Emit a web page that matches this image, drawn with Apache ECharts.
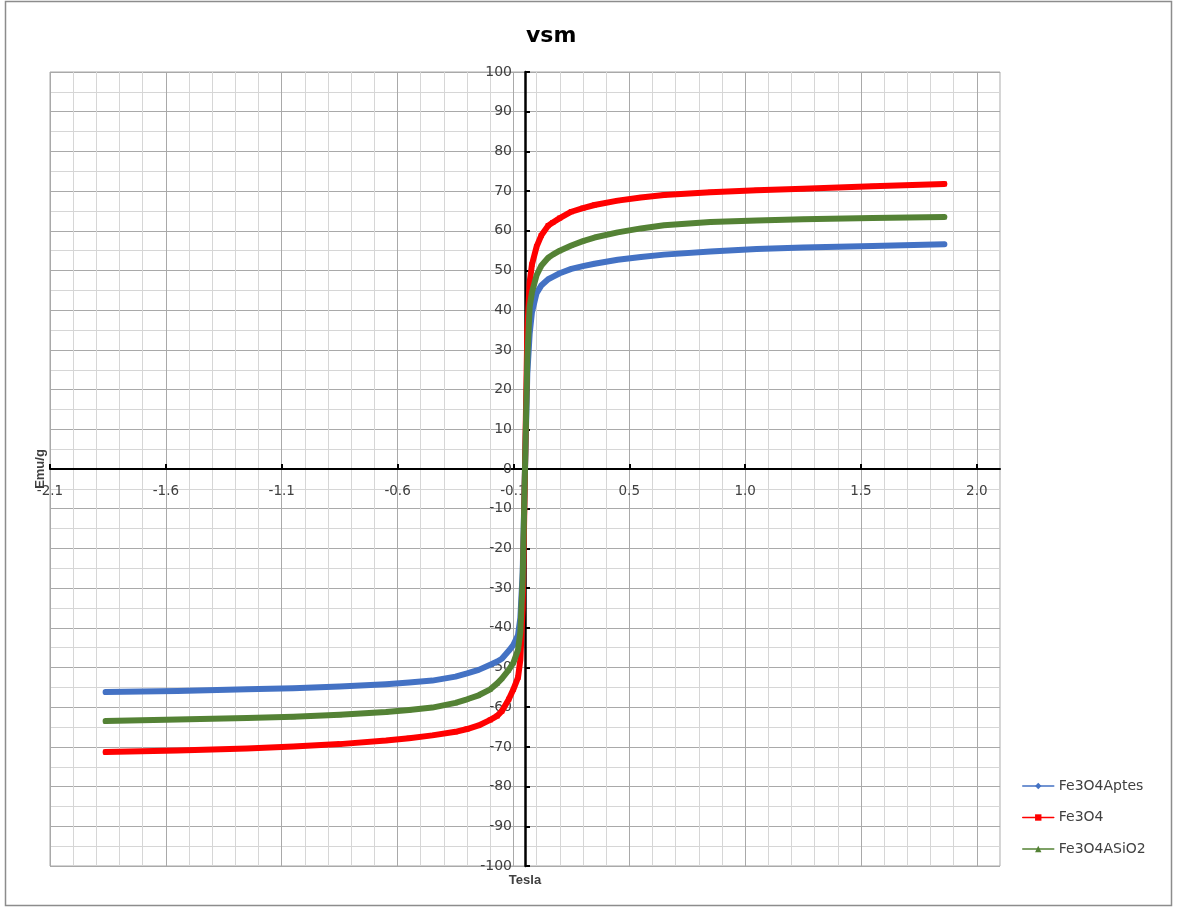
<!DOCTYPE html>
<html>
<head>
<meta charset="utf-8">
<title>vsm</title>
<script src="https://cdn.jsdelivr.net/npm/echarts@6/dist/echarts.min.js"></script>
<style>
  html, body { margin: 0; padding: 0; background: #ffffff; }
  #chart { width: 1178px; height: 913px; }
</style>
</head>
<body>
<div id="chart"></div>
<script>
// Applied field (T) shared by the three magnetisation curves
const tesla = [-1.81, -1.5, -1.2, -1.0, -0.8, -0.6, -0.5, -0.4, -0.3, -0.25, -0.2, -0.15, -0.12, -0.1, -0.07, -0.05, -0.03, -0.02, -0.01,
  0,
  0.01, 0.02, 0.03, 0.05, 0.07, 0.1, 0.12, 0.15, 0.2, 0.25, 0.3, 0.4, 0.5, 0.6, 0.8, 1.0, 1.2, 1.5, 1.81];

// Magnetisation (emu/g) of each sample
const fe3o4Aptes = [-56.2, -55.9, -55.5, -55.2, -54.8, -54.2, -53.8, -53.3, -52.3, -51.5, -50.6, -49.3, -48.5, -47.8, -45.8, -44.3, -41.8, -37.5, -26,
  0,
  24, 34, 39.5, 44.3, 46.2, 47.8, 48.4, 49.3, 50.4, 51.1, 51.7, 52.7, 53.4, 54.0, 54.8, 55.4, 55.8, 56.2, 56.6];

const fe3o4 = [-71.3, -70.9, -70.4, -69.9, -69.3, -68.4, -67.8, -67.1, -66.2, -65.5, -64.6, -63.2, -62.2, -61.0, -58.0, -55.5, -52.5, -48, -35,
  0,
  35, 47, 51.5, 56, 58.8, 61.3, 62.1, 63.2, 64.8, 65.7, 66.5, 67.6, 68.4, 69.0, 69.7, 70.2, 70.6, 71.2, 71.8];

const fe3o4ASiO2 = [-63.5, -63.1, -62.7, -62.4, -61.9, -61.2, -60.7, -60.1, -58.9, -58.0, -57.0, -55.5, -54.0, -52.8, -50.6, -48.8, -45.5, -41, -28,
  0,
  28, 40.8, 44.5, 48.8, 51.2, 53.2, 54.0, 55.0, 56.3, 57.4, 58.3, 59.6, 60.6, 61.4, 62.2, 62.6, 62.9, 63.2, 63.5];

// Field axis: major ticks and their printed (one-decimal) labels
const xTickValues = [-2.05, -1.55, -1.05, -0.55, -0.05, 0.45, 0.95, 1.45, 1.95];
const xTickLabels = ['-2.1', '-1.6', '-1.1', '-0.6', '-0.1', '0.5', '1.0', '1.5', '2.0'];

const seriesNames = ['Fe3O4Aptes', 'Fe3O4', 'Fe3O4ASiO2'];
const seriesColors = ['#4472C4', '#FF0000', '#548235'];
const seriesSymbols = ['diamond', 'rect', 'triangle'];
const seriesValues = [fe3o4Aptes, fe3o4, fe3o4ASiO2];

const FONT = 'DejaVu Sans';
const LABEL_COLOR = '#404040';
const MAJOR_GRID = '#a9a9a9';
const MINOR_GRID = '#d6d6d6';
const X_MIN = -2.05, X_MAX = 2.05;
const Y_MIN = -100, Y_MAX = 100;

// plot rectangle
const GRID = { left: 50, right: 178, top: 72, bottom: 47 };
const CHART_W = 1178, CHART_H = 913;
const plotW = CHART_W - GRID.left - GRID.right;
const plotH = CHART_H - GRID.top - GRID.bottom;
// shift the crossing axes from the plot edges to the zero lines
const xAxisShift = -plotH * (0 - Y_MIN) / (Y_MAX - Y_MIN);
const yAxisShift = -plotW * (0 - X_MIN) / (X_MAX - X_MIN);

const chart = echarts.init(document.getElementById('chart'), null, { renderer: 'canvas' });

const option = {
  backgroundColor: '#ffffff',
  animation: false,
  title: {
    text: 'vsm',
    left: 521,
    top: 20,
    textStyle: { fontFamily: FONT, fontWeight: 'bold', fontSize: 22, color: '#000000' }
  },
  graphic: [{
    type: 'rect',
    shape: { x: 5.5, y: 1.5, width: 1166, height: 904 },
    style: { fill: null, stroke: '#8c8c8c', lineWidth: 1.5 },
    silent: true,
    z: -1
  }],
  legend: {
    orient: 'vertical',
    left: 1017,
    top: 773,
    itemWidth: 31,
    itemHeight: 8,
    itemGap: 15.5,
    data: seriesNames,
    lineStyle: { width: 1.5 },
    textStyle: { fontFamily: FONT, fontSize: 14, color: LABEL_COLOR, lineHeight: 16 }
  },
  grid: {
    left: GRID.left, right: GRID.right, top: GRID.top, bottom: GRID.bottom,
    show: true, borderColor: MAJOR_GRID, borderWidth: 1,
    containLabel: false
  },
  xAxis: [
    {
      // main field axis, drawn along M = 0
      type: 'value',
      min: X_MIN, max: X_MAX,
      position: 'bottom',
      offset: xAxisShift,
      axisLine: { show: true, onZero: false, lineStyle: { color: '#000000', width: 2 } },
      axisTick: { show: true, inside: true, length: 5, customValues: xTickValues, lineStyle: { color: '#000000', width: 2 } },
      axisLabel: {
        show: true, margin: 15, customValues: xTickValues,
        fontFamily: FONT, fontSize: 13.5, color: LABEL_COLOR,
        formatter: function (v) {
          let best = 0;
          for (let i = 1; i < xTickValues.length; i++) {
            if (Math.abs(xTickValues[i] - v) < Math.abs(xTickValues[best] - v)) best = i;
          }
          return Math.abs(xTickValues[best] - v) < 1e-6 ? xTickLabels[best] : '';
        }
      },
      splitLine: { show: false }
    },
    {
      // field gridlines every 0.1 T, with every fifth one darker
      type: 'value',
      min: X_MIN, max: X_MAX, interval: 0.1,
      position: 'bottom',
      axisLine: { show: false, onZero: false },
      axisTick: { show: false },
      axisLabel: { show: false },
      splitLine: { show: true, lineStyle: { color: [MAJOR_GRID, MINOR_GRID, MINOR_GRID, MINOR_GRID, MINOR_GRID], width: 1 } },
      name: 'Tesla',
      nameLocation: 'middle',
      nameGap: 8,
      nameTextStyle: { fontFamily: 'Liberation Sans', fontWeight: 'bold', fontSize: 13, color: LABEL_COLOR, verticalAlign: 'top' }
    }
  ],
  yAxis: [
    {
      // main magnetisation axis, drawn along H = 0
      type: 'value',
      min: Y_MIN, max: Y_MAX, interval: 10,
      position: 'left',
      offset: yAxisShift,
      axisLine: { show: true, onZero: false, lineStyle: { color: '#000000', width: 2.5 } },
      axisTick: { show: true, inside: true, length: 5, lineStyle: { color: '#000000', width: 2 } },
      axisLabel: { show: true, margin: 13, fontFamily: FONT, fontSize: 14, color: LABEL_COLOR },
      splitLine: { show: false }
    },
    {
      // magnetisation gridlines every 5 emu/g
      type: 'value',
      min: Y_MIN, max: Y_MAX, interval: 5,
      position: 'left',
      axisLine: { show: false, onZero: false },
      axisTick: { show: false },
      axisLabel: { show: false },
      splitLine: { show: true, lineStyle: { color: [MAJOR_GRID, MINOR_GRID], width: 1 } },
      name: 'Emu/g',
      nameLocation: 'middle',
      nameRotate: 90,
      nameGap: 3,
      nameTextStyle: { fontFamily: 'Liberation Sans', fontWeight: 'bold', fontSize: 13, color: LABEL_COLOR }
    }
  ],
  series: seriesNames.map(function (name, k) {
    return {
      name: name,
      type: 'line',
      xAxisIndex: 0,
      yAxisIndex: 0,
      data: tesla.map(function (t, i) { return [t, seriesValues[k][i]]; }),
      showSymbol: true,
      symbol: seriesSymbols[k],
      symbolSize: 5,
      color: seriesColors[k],
      itemStyle: { color: seriesColors[k] },
      lineStyle: { color: seriesColors[k], width: 6, join: 'round', cap: 'round' },
      z: 3 + k
    };
  })
};

chart.setOption(option);
</script>
</body>
</html>
